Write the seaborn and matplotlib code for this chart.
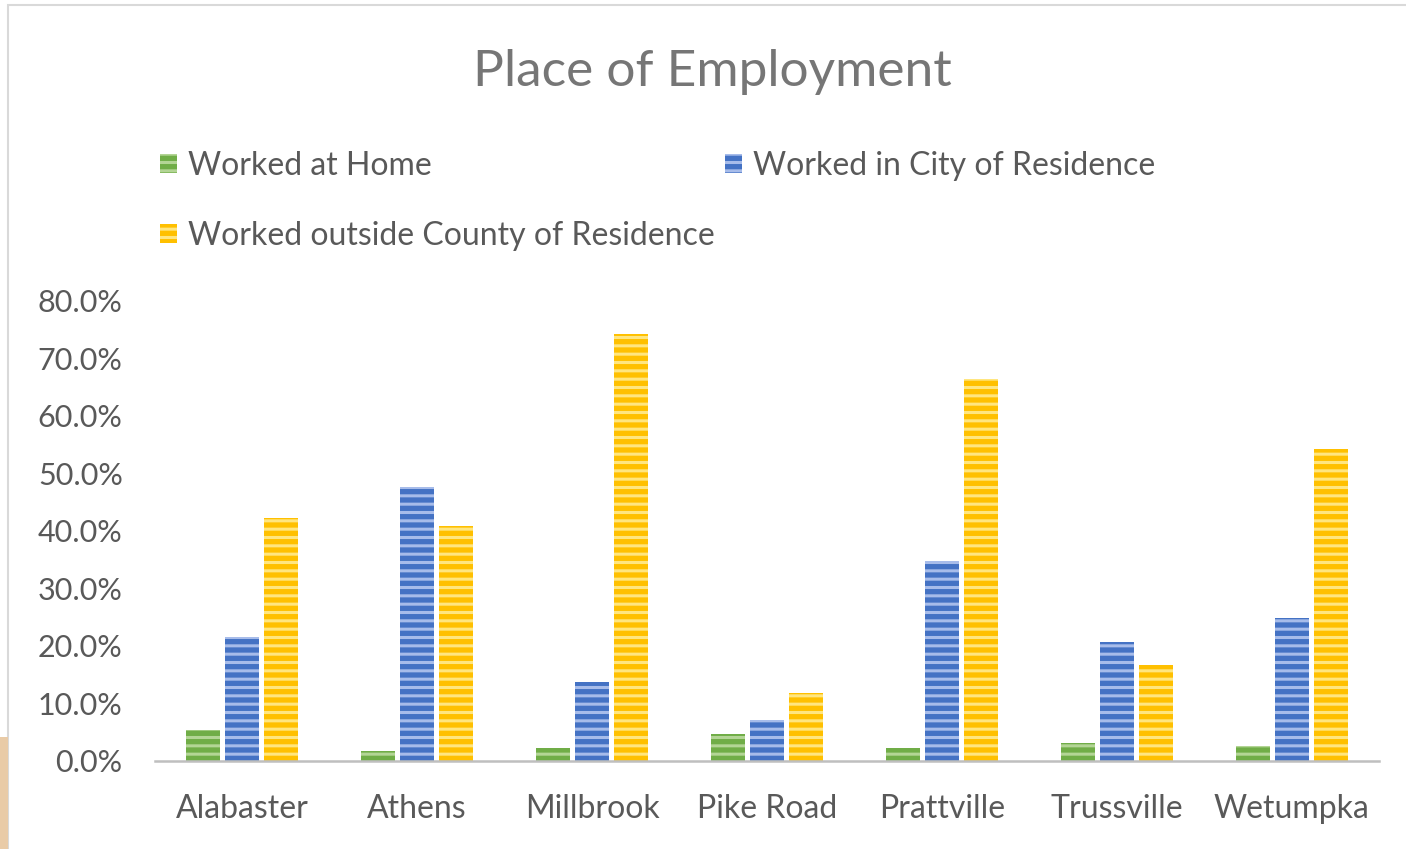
import numpy as np
import pandas as pd
import matplotlib.pyplot as plt
import seaborn as sns
from matplotlib.patches import Rectangle
from matplotlib.ticker import PercentFormatter

# values (percent)
cities = ['Alabaster', 'Athens', 'Millbrook', 'Pike Road', 'Prattville', 'Trussville', 'Wetumpka']
at_home = [5.4, 1.7, 2.3, 4.7, 2.3, 3.1, 2.6]
in_city = [21.6, 47.7, 13.7, 7.1, 34.8, 20.7, 24.9]
outside_county = [42.3, 40.9, 74.3, 11.8, 66.4, 16.7, 54.3]
series = ['Worked at Home', 'Worked in City of Residence', 'Worked outside County of Residence']

bar_colors = ['#70AD47', '#4472C4', '#FFC000']
stripe_colors = ['#B3D595', '#A7BCEA', '#FFE680']
text_color = '#595959'

df = pd.DataFrame({
    'city': cities * 3,
    'series': [series[0]] * 7 + [series[1]] * 7 + [series[2]] * 7,
    'value': at_home + in_city + outside_county,
})

sns.set_theme(style='white')
plt.rcParams['font.family'] = ['Lato', 'DejaVu Sans']
plt.rcParams['hatch.linewidth'] = 2.2

fig = plt.figure(figsize=(14.06, 8.49), dpi=100)
ax = fig.add_axes([0.110, 0.1037, 0.871, 0.5418])

sns.barplot(data=df, x='city', y='value', hue='series', order=cities, hue_order=series,
            palette=bar_colors, width=0.67, gap=0.13, saturation=1, ax=ax, legend=False)

for cont, sc in zip(ax.containers, stripe_colors):
    for bar in cont:
        bar.set_hatch('--')
        bar.set_edgecolor(sc)
        bar.set_linewidth(0)

ax.set_ylim(0, 80)
ax.set_yticks(np.arange(0, 81, 10))
ax.yaxis.set_major_formatter(PercentFormatter(decimals=1))
ax.set_xlabel('')
ax.set_ylabel('')
ax.tick_params(axis='y', labelsize=22, labelcolor=text_color, length=0, pad=23)
ax.tick_params(axis='x', labelsize=23, labelcolor=text_color, length=0, pad=24)
for side in ['top', 'left', 'right']:
    ax.spines[side].set_visible(False)
ax.spines['bottom'].set_color('#BFBFBF')
ax.spines['bottom'].set_linewidth(1.8)
ax.set_xlim(-0.5, 6.5)

# legend fills column-wise, so order it to read row-wise like the reference
handles = [Rectangle((0, 0), 1, 1, facecolor=c, hatch='--', edgecolor=s, linewidth=0)
           for c, s in zip(bar_colors, stripe_colors)]
leg_order = [0, 2, 1]
fig.legend([handles[i] for i in leg_order], [series[i] for i in leg_order],
           loc='upper left', bbox_to_anchor=(0.093, 0.856), ncol=2,
           frameon=False, fontsize=23, labelcolor=text_color, handlelength=0.55,
           handleheight=0.55, handletextpad=0.35, columnspacing=0.3, labelspacing=1.25)

fig.text(0.507, 0.915, 'Place of Employment', ha='center', va='center',
         fontsize=37, color='#767676')

# chart frame and the slide strip at lower left
fig.patches.append(Rectangle((0.006, -0.01), 1.0, 1.004, transform=fig.transFigure,
                             fill=False, edgecolor='#D9D9D9', linewidth=1.5))
fig.patches.append(Rectangle((0, 0), 0.0057, 0.132, transform=fig.transFigure,
                             facecolor='#E9CBA7', edgecolor='none'))

fig.savefig('out.png', dpi=100)
